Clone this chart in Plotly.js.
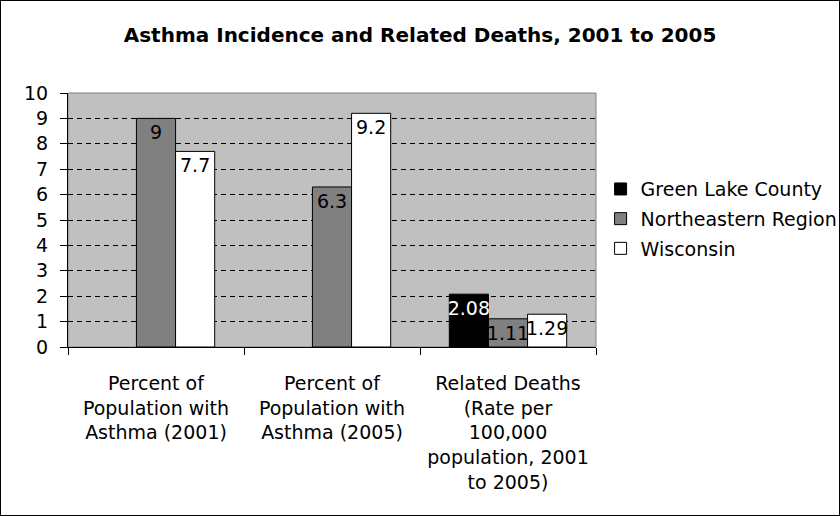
<!DOCTYPE html>
<html>
<head>
<meta charset="utf-8">
<script src="https://cdn.plot.ly/plotly-3.0.1.min.js"></script>
<style>
html,body{margin:0;padding:0;background:#fff;}
#chart{width:838px;height:514px;border:1px solid #000;}
</style>
</head>
<body>
<div id="chart"></div>
<script>
const categories = [
  "Percent of<br>Population with<br>Asthma (2001)",
  "Percent of<br>Population with<br>Asthma (2005)",
  "Related Deaths<br>(Rate per<br>100,000<br>population, 2001<br>to 2005)"
];
const greenLake = [null, null, 2.08];
const northeastern = [9, 6.3, 1.11];
const wisconsin = [7.7, 9.2, 1.29];
const seriesNames = ["Green Lake County", "Northeastern Region", "Wisconsin"];
const yTicks = [0,1,2,3,4,5,6,7,8,9,10];

const FONT = "DejaVu Sans, Verdana, sans-serif";
const FS = 19;
function bar(name, vals, color, textColor, grp) {
  return {
    type: "bar", name: name, x: categories, y: vals,
    legendgroup: grp,
    marker: {color: color, line: {color: "#000", width: 1}},
    text: vals.map(v => v === null ? "" : String(v)),
    textposition: "inside", insidetextanchor: "end", textangle: 0,
    constraintext: "none", cliponaxis: false,
    textfont: {family: FONT, size: FS, color: textColor},
    hoverinfo: "none"
  };
}
const data = [
  bar(seriesNames[0], greenLake, "#000000", "#ffffff", "g1"),
  bar(seriesNames[1], northeastern, "#808080", "#000000", "g2"),
  bar(seriesNames[2], wisconsin, "#ffffff", "#000000", "g3")
];
const layout = {
  width: 838, height: 514,
  margin: {l: 67, r: 243, t: 92, b: 168, pad: 0},
  paper_bgcolor: "#ffffff", plot_bgcolor: "#c0c0c0",
  font: {family: FONT, size: FS, color: "#000"},
  title: {text: "<b>Asthma Incidence and Related Deaths, 2001 to 2005</b>",
          font: {family: FONT, size: 20, color: "#000"}, x: 0.5, xanchor: "center", y: 0.934, yanchor: "middle"},
  barmode: "group", bargap: 0.333, bargroupgap: 0,
  showlegend: true,
  legend: {xref: "container", yref: "container", x: 0.7155, xanchor: "left", y: 0.671, yanchor: "top",
           font: {family: FONT, size: FS, color: "#000"}, bgcolor: "rgba(0,0,0,0)",
           traceorder: "grouped", tracegroupgap: 2, itemclick: false},
  xaxis: {type: "category", tickson: "boundaries", ticks: "outside", ticklen: 7,
          tickcolor: "#000", showline: true, linecolor: "#000", linewidth: 1,
          showgrid: false, tickangle: 0, tickfont: {family: FONT, size: FS},
          ticklabelstandoff: 19, automargin: false},
  yaxis: {range: [0, 10], tickvals: yTicks, ticktext: yTicks.map(String),
          ticks: "outside", ticklen: 7, tickcolor: "#000",
          showline: true, linecolor: "#000", linewidth: 1,
          showgrid: true, gridcolor: "#000", gridwidth: 1, griddash: "5px,4px",
          zeroline: false, tickfont: {family: FONT, size: FS},
          ticklabelstandoff: 8, automargin: false},
  shapes: [{type: "rect", xref: "paper", yref: "paper", x0: 0, x1: 1, y0: 0, y1: 1,
            line: {color: "#808080", width: 1}, layer: "below"}]
};
Plotly.newPlot("chart", data, layout, {displayModeBar: false, staticPlot: true});
</script>
</body>
</html>
